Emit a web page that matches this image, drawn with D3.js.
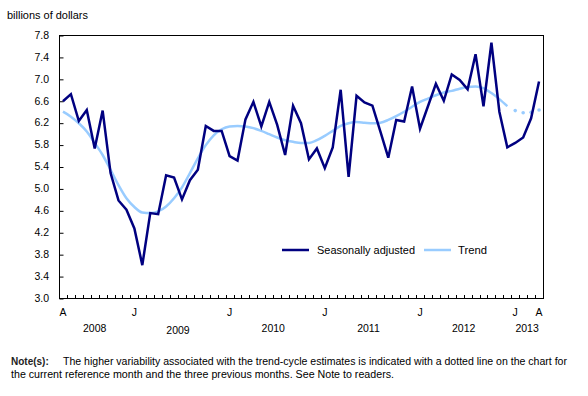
<!DOCTYPE html>
<html><head><meta charset="utf-8">
<script src="https://cdn.jsdelivr.net/npm/d3@7"></script>
<style>
html,body{margin:0;padding:0;background:#fff;}
svg{display:block;font-family:"Liberation Sans",Arial,sans-serif;}
</style></head>
<body>
<svg id="chart" width="588" height="396"></svg>
<script>
// ---- data ----
const seasonallyAdjusted = [6.59,6.72,6.23,6.43,5.73,6.42,5.28,4.78,4.61,4.27,
  3.60,4.55,4.53,5.24,5.20,4.80,5.15,5.34,6.14,6.05,
  6.05,5.59,5.51,6.26,6.58,6.13,6.58,6.16,5.61,6.51,
  6.19,5.53,5.73,5.37,5.75,6.80,5.21,6.69,6.57,6.51,
  6.04,5.56,6.25,6.22,6.86,6.09,6.50,6.91,6.60,7.08,
  6.98,6.81,7.45,6.50,7.66,6.40,5.75,5.83,5.93,6.28,6.95];
const trend = [6.40,6.31,6.19,6.04,5.83,5.61,5.34,5.06,4.82,4.66,
  4.56,4.55,4.58,4.67,4.82,5.02,5.28,5.55,5.79,5.97,
  6.08,6.13,6.14,6.13,6.10,6.05,5.99,5.93,5.88,5.85,
  5.83,5.83,5.88,5.96,6.05,6.14,6.19,6.21,6.20,6.19,
  6.20,6.25,6.32,6.40,6.49,6.58,6.64,6.70,6.75,6.78,
  6.82,6.85,6.86,6.83,6.74,6.63,6.50,6.42,6.38,6.39,6.43];
const trendDottedFrom = 56; // last 4 months dotted
const months = d3.timeMonth.range(new Date(2008,3,1), new Date(2013,4,1));
const monthTickLabels = [["2008-04","A"],["2009-01","J"],["2010-01","J"],["2011-01","J"],["2012-01","J"],["2013-01","J"],["2013-04","A"]];
const years = ["2008","2009","2010","2011","2012","2013"];
const yTicks = [3.0,3.4,3.8,4.2,4.6,5.0,5.4,5.8,6.2,6.6,7.0,7.4,7.8];
const seriesNames = ["Seasonally adjusted","Trend"];
const colors = ["#000080","#99CCFF"];

// ---- layout ----
const svg = d3.select("#chart");
const L=59, R=543, T=35, B=298;
const fmt = d3.timeFormat("%Y-%m");
const keys = months.map(fmt);
const x = d3.scaleBand().domain(keys).range([L,R]).padding(0);
const cx = k => x(k) + x.bandwidth()/2;
const y = d3.scaleLinear().domain([3.0,7.8]).range([B,T]);

// frame
svg.append("rect").attr("x",L+0.5).attr("y",T+0.5).attr("width",R-L).attr("height",B-T)
  .attr("fill","none").attr("stroke","#000").attr("stroke-width",1);

// y axis ticks & labels
const yAxis = d3.axisRight(y).tickValues(yTicks).tickSize(4).tickFormat("");
svg.append("g").attr("transform",`translate(${L+0.5},0)`).call(yAxis)
  .call(g=>g.select(".domain").remove())
  .call(g=>g.selectAll("line").attr("stroke","#000").attr("transform","translate(0,0.5)"));
svg.append("g").selectAll("text").data(yTicks).join("text")
  .attr("x",49).attr("y",d=>y(d)).attr("dy","0.36em")
  .attr("text-anchor","end").attr("font-size",10.5).attr("fill","#000")
  .text(d=>d3.format(".1f")(d));

// x ticks at month boundaries (pointing up, inside)
const boundaries = keys.slice(1);
svg.append("g").selectAll("line").data(boundaries).join("line")
  .attr("x1",k=>Math.round(x(k))+0.5).attr("x2",k=>Math.round(x(k))+0.5)
  .attr("y1",B+0.5).attr("y2",B-3).attr("stroke","#000").attr("stroke-width",1);

// month labels
svg.append("g").selectAll("text").data(monthTickLabels).join("text")
  .attr("x",d=>cx(d[0])).attr("y",312).attr("dy","0.36em")
  .attr("text-anchor","middle").attr("font-size",10.5).text(d=>d[1]);

// year labels centred on each year's months
svg.append("g").selectAll("text").data(years).join("text")
  .attr("x",yr=>{const ks=keys.filter(k=>k.startsWith(yr)); return (cx(ks[0])+cx(ks[ks.length-1]))/2;})
  .attr("y",(yr)=>yr==="2009"?330:328).attr("dy","0.36em")
  .attr("text-anchor","middle").attr("font-size",10.5).text(d=>d);

// axis title
svg.append("text").attr("x",7).attr("y",15).attr("dy","0.36em")
  .attr("font-size",10.5).attr("textLength",81).attr("lengthAdjust","spacingAndGlyphs").text("billions of dollars");

// trend line (solid part)
const lineT = d3.line().x((d,i)=>cx(keys[i])).y(d=>y(d)).curve(d3.curveMonotoneX);
const solidTrend = trend.map((v,i)=> i<=trendDottedFrom ? v : null);
svg.append("path").datum(trend.slice(0,trendDottedFrom+1))
  .attr("d",lineT).attr("fill","none").attr("stroke",colors[1]).attr("stroke-width",2.5);
// dotted part
svg.append("g").selectAll("circle").data(trend.map((v,i)=>[i,v]).filter(d=>d[0]>trendDottedFrom))
  .join("circle").attr("cx",d=>cx(keys[d[0]])).attr("cy",d=>y(d[1])).attr("r",1.8)
  .attr("fill",colors[1]);

// seasonally adjusted line
const lineS = d3.line().x((d,i)=>cx(keys[i])).y(d=>y(d));
svg.append("path").datum(seasonallyAdjusted).attr("d",lineS)
  .attr("fill","none").attr("stroke",colors[0]).attr("stroke-width",2.5).attr("stroke-linejoin","miter");

// legend
const leg = [{x1:282,x2:309,tx:317,tw:98},{x1:424,x2:451,tx:458,tw:29}];
leg.forEach((l,i)=>{
  svg.append("line").attr("x1",l.x1).attr("x2",l.x2).attr("y1",250).attr("y2",250)
    .attr("stroke",colors[i]).attr("stroke-width",2.5);
  svg.append("text").attr("x",l.tx).attr("y",250).attr("dy","0.36em").attr("font-size",10.5)
    .attr("textLength",l.tw).attr("lengthAdjust","spacingAndGlyphs").text(seriesNames[i]);
});

// note
svg.append("text").attr("x",11).attr("y",361).attr("dy","0.36em").attr("font-size",10)
  .attr("font-weight","bold").attr("fill","#222").text("Note(s):");
svg.append("text").attr("x",63).attr("y",361).attr("dy","0.36em").attr("font-size",10)
  .attr("textLength",504).attr("lengthAdjust","spacingAndGlyphs")
  .text("The higher variability associated with the trend-cycle estimates is indicated with a dotted line on the chart for");
svg.append("text").attr("x",11).attr("y",374).attr("dy","0.36em").attr("font-size",10)
  .attr("textLength",383).attr("lengthAdjust","spacingAndGlyphs")
  .text("the current reference month and the three previous months. See Note to readers.");
</script>
</body></html>
